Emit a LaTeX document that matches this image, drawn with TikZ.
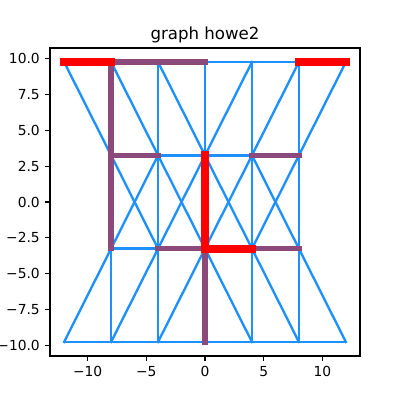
\documentclass[tikz,border=0pt]{standalone}
\usepackage{fontspec}
\setmainfont{DejaVu Sans}
\usetikzlibrary{positioning}
\definecolor{netblue}{RGB}{30,144,255}
\definecolor{netplum}{RGB}{139,74,123}

\begin{document}
\begin{tikzpicture}[
  x=0.0254cm, y=0.0254cm,
  edge/.style={line cap=rect},
  plain/.style={edge,draw=netblue,line width=1.7pt},
  path2/.style={edge,draw=netplum,line width=4pt},
  path1/.style={edge,draw=red,line width=6pt},
  axis/.style={line width=0.8pt},
  ticklab/.style={inner sep=0pt,font=\fontsize{10}{12}\selectfont},
]
\useasboundingbox (0,0) rectangle (400,400);

% title and frame
\node[anchor=base,font=\fontsize{12}{14}\selectfont] (title) at (205,360.3) {graph howe2};
\draw[axis] (50,44) rectangle (360,352);

\begin{scope}[shift={(205,198)}, x=0.29825cm, y=0.36472cm]
% vertices
\foreach \i/\x in {1/-12,2/-8,3/-4,4/0,5/4,6/8,7/12} {
  \coordinate (t\i) at (\x,9.75);
  \coordinate (b\i) at (\x,-9.75);
}
\foreach \i/\x in {2/-8,3/-4,4/0,5/4,6/8} {
  \coordinate (u\i) at (\x,3.25);
  \coordinate (l\i) at (\x,-3.25);
}

% ticks
\foreach \x/\lab [count=\k] in {-10/−10,-5/−5,0/0,5/5,10/10}
  \draw[axis] (\x,-10.725) -- ++(0,-3.5pt) node[ticklab,below=3.5pt] (xt\k) {\lab};
\foreach \y/\lab [count=\k] in {-10/−10.0,-7.5/−7.5,-5/−5.0,-2.5/−2.5,0/0.0,2.5/2.5,5/5.0,7.5/7.5,10/10.0}
  \draw[axis] (-13.2,\y) -- ++(-3.5pt,0) node[ticklab,left=3.5pt] (yt\k) {\lab};

% plain edges
\foreach \a/\b in {t4/t5,t5/t6,
    t1/u2,t2/u3,t3/u3,t3/u4,t4/u4,t5/u4,t5/u5,t6/u5,t6/u6,t7/u6,
    u3/u4,u4/u5,
    u2/l3,u3/l2,u3/l3,u3/l4,u4/l3,u4/l5,u5/l4,u5/l5,u5/l6,u6/l5,u6/l6,
    l2/l3,
    l2/b1,l2/b2,l3/b2,l3/b3,l4/b3,l4/b5,l5/b5,l5/b6,l6/b6,l6/b7,
    b1/b2,b2/b3,b3/b4,b4/b5,b5/b6,b6/b7}
  \draw[plain] (\a) -- (\b);

% marked edges
\foreach \a/\b in {t2/t3,t3/t4,t2/u2,u2/u3,u5/u6,u2/l2,l3/l4,l5/l6,l4/b4}
  \draw[path2] (\a) -- (\b);
\foreach \a/\b in {t1/t2,t6/t7,u4/l4,l4/l5}
  \draw[path1] (\a) -- (\b);
\end{scope}

\end{tikzpicture}
\end{document}
